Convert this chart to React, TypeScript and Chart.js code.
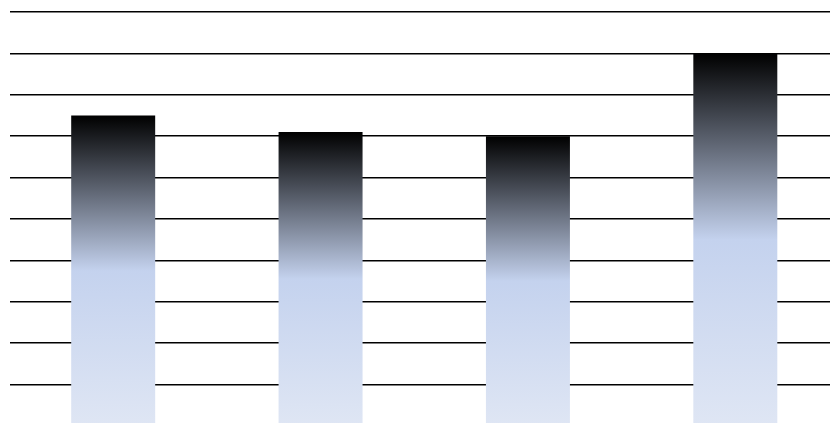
import React, { useEffect, useRef } from "react";
import { Chart, registerables } from "chart.js";

Chart.register(...registerables);

const categories = ["A", "B", "C", "D"];
const values = [7.5, 7.1, 7.0, 9.0];
const yMin = 0;
const yMax = 10;
const yStep = 1;

export default function App() {
  const ref = useRef<HTMLCanvasElement | null>(null);
  useEffect(() => {
    if (!ref.current) return;
    const chart = new Chart(ref.current, {
      type: "bar",
      data: {
        labels: categories,
        datasets: [
          {
            data: values,
            backgroundColor: (ctx: any) => {
              const c = ctx.chart;
              const ys = c.scales && c.scales.y;
              if (!ys || ctx.raw == null) return "#c6d4ee";
              const top = ys.getPixelForValue(ctx.raw);
              const base = ys.getPixelForValue(0);
              if (!isFinite(top) || !isFinite(base)) return "#c6d4ee";
              const g = c.ctx.createLinearGradient(0, top, 0, base);
              g.addColorStop(0, "#000000");
              g.addColorStop(0.5, "#c4d2ee");
              g.addColorStop(1, "#dfe6f4");
              return g;
            },
            borderWidth: 0,
            barPercentage: 0.81,
            categoryPercentage: 0.5,
          },
        ],
      },
      options: {
        responsive: false,
        animation: false,
        layout: { padding: { top: 4, left: 1.5, right: 0, bottom: 0 } },
        plugins: { legend: { display: false }, tooltip: { enabled: false } },
        scales: {
          x: {
            display: false,
          },
          y: {
            min: yMin,
            max: yMax,
            ticks: { display: false, stepSize: yStep },
            border: { display: false },
            grid: { color: "#000000", lineWidth: 1.5, drawTicks: false },
          },
        },
      },
    });
    return () => chart.destroy();
  }, []);
  return (
    <div style={{ position: "absolute", left: 8, top: 8, width: 822, height: 415, overflow: "hidden" }}>
      <canvas ref={ref} width={831} height={418} style={{ width: 831, height: 418, display: "block" }} />
    </div>
  );
}
